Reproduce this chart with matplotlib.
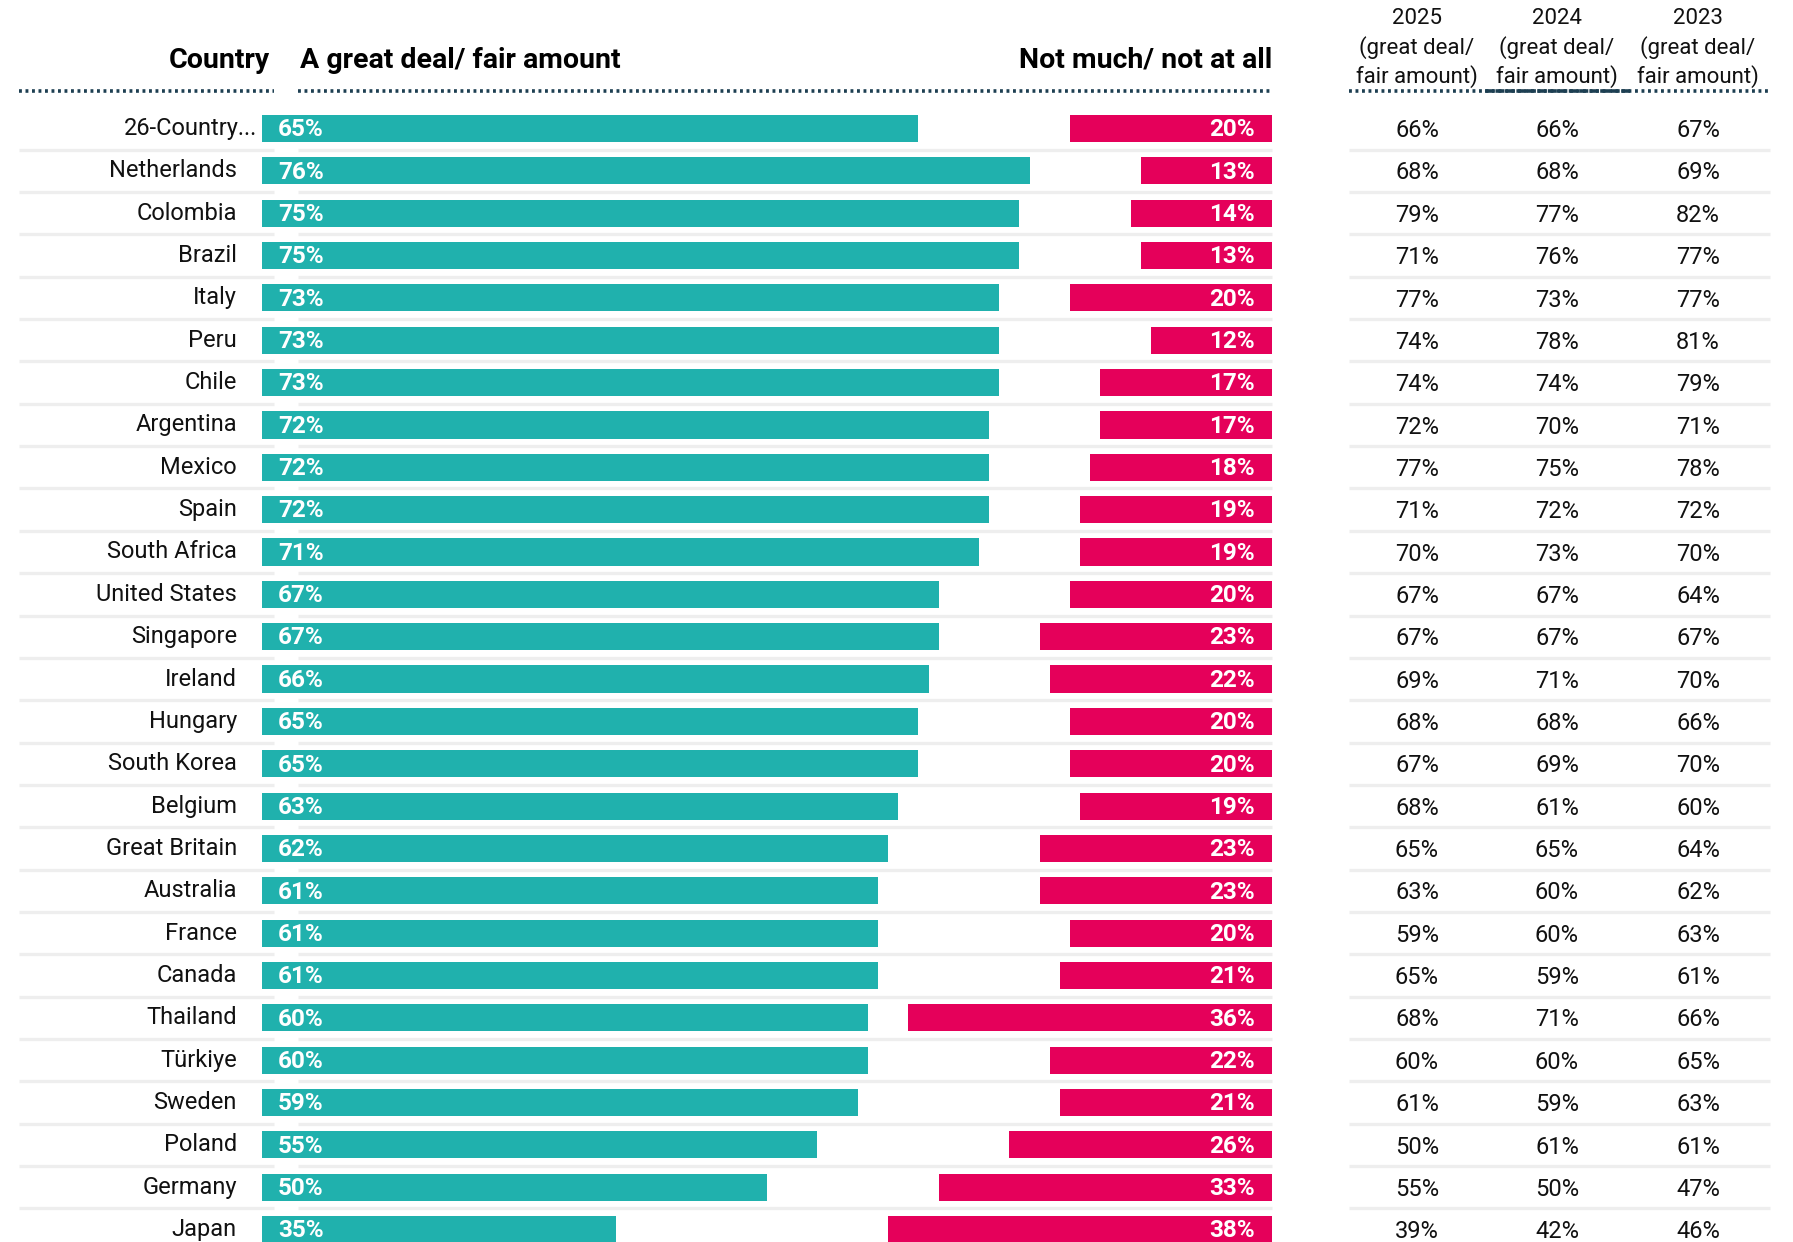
"""Trust by country: horizontal diverging bars plus a small year table."""
import matplotlib.pyplot as plt
from matplotlib import font_manager
from matplotlib.transforms import blended_transform_factory

COUNTRIES = ["26-Country...", "Netherlands", "Colombia", "Brazil", "Italy", "Peru",
             "Chile", "Argentina", "Mexico", "Spain", "South Africa", "United States",
             "Singapore", "Ireland", "Hungary", "South Korea", "Belgium", "Great Britain",
             "Australia", "France", "Canada", "Thailand", "Türkiye", "Sweden", "Poland",
             "Germany", "Japan"]
GREAT_DEAL = [65, 76, 75, 75, 73, 73, 73, 72, 72, 72, 71, 67, 67, 66, 65, 65, 63, 62,
              61, 61, 61, 60, 60, 59, 55, 50, 35]
NOT_MUCH = [20, 13, 14, 13, 20, 12, 17, 17, 18, 19, 19, 20, 23, 22, 20, 20, 19, 23,
            23, 20, 21, 36, 22, 21, 26, 33, 38]
YEARS = ["2025", "2024", "2023"]
Y2025 = [66, 68, 79, 71, 77, 74, 74, 72, 77, 71, 70, 67, 67, 69, 68, 67, 68, 65,
         63, 59, 65, 68, 60, 61, 50, 55, 39]
Y2024 = [66, 68, 77, 76, 73, 78, 74, 70, 75, 72, 73, 67, 67, 71, 68, 69, 61, 65,
         60, 60, 59, 71, 60, 59, 61, 50, 42]
Y2023 = [67, 69, 82, 77, 77, 81, 79, 71, 78, 72, 70, 64, 67, 70, 66, 70, 60, 64,
         62, 63, 61, 66, 65, 63, 61, 47, 46]

W, H = 1793, 1242
TEAL = "#20b1ad"
PINK = "#e5005a"
NAVY = "#1d3f52"
SEP = "#eeeeee"


def pick_font(candidates):
    """Return the first installed family from candidates."""
    names = {f.name for f in font_manager.fontManager.ttflist}
    for name in candidates:
        if name in names:
            return name
    return "DejaVu Sans"


def fx(px):
    """Figure pixel -> figure fraction (x)."""
    return px / W


def main():
    font = pick_font(["Roboto", "Liberation Sans", "DejaVu Sans"])
    plt.rcParams["font.family"] = [font, "DejaVu Sans"]

    fig = plt.figure(figsize=(W / 100, H / 100), dpi=100)
    # bar axes: 0% at x=262px, 100% at x=1272px, rows 42.35px apart
    ax = fig.add_axes([fx(262), 0, fx(1010), 1])
    row_h = 42.35
    first_row = 128.5
    ax.set_xlim(0, 100)
    ax.set_ylim((H - first_row) / row_h, -first_row / row_h)
    ax.axis("off")

    def py(px):
        return (px - first_row) / row_h

    rows = list(range(len(COUNTRIES)))
    tr = blended_transform_factory(fig.transFigure, ax.transData)

    # row separators (three segments)
    for i in rows[:-1]:
        for x0, x1 in [(19, 274), (298, 1272), (1349, 1770)]:
            ax.plot([fx(x0), fx(x1)], [i + 0.5, i + 0.5], transform=tr,
                    color=SEP, lw=2.4, solid_capstyle="butt", clip_on=False, zorder=1)

    ax.barh(rows, GREAT_DEAL, height=0.64, color=TEAL, zorder=2)
    not_left = [100 - v for v in NOT_MUCH]
    ax.barh(rows, NOT_MUCH, left=not_left, height=0.64, color=PINK, zorder=2)

    for i in rows:
        ax.text(1.6, i + 0.03, f"{GREAT_DEAL[i]}%", color="white", fontsize=17.5,
                fontweight="bold", ha="left", va="center", zorder=3)
        ax.text(98.3, i + 0.03, f"{NOT_MUCH[i]}%", color="white", fontsize=17.5,
                fontweight="bold", ha="right", va="center", zorder=3)
        name = COUNTRIES[i]
        lx = 257 if name.endswith("...") else 237
        ax.text(fx(lx), i, name, transform=tr, fontsize=17, color="#111111",
                ha="right", va="center", clip_on=False)
        for cx, vals in zip([1417, 1557, 1698], [Y2025, Y2024, Y2023]):
            ax.text(fx(cx), i + 0.05, f"{vals[i]}%", transform=tr, fontsize=17,
                    color="#111111", ha="center", va="center", clip_on=False)

    # headers
    ax.text(fx(270), py(60), "Country", transform=tr, fontsize=20.5,
            fontweight="bold", ha="right", va="center", clip_on=False)
    ax.text(fx(300), py(60), "A great deal/ fair amount", transform=tr, fontsize=20.5,
            fontweight="bold", ha="left", va="center", clip_on=False)
    ax.text(fx(1272), py(60), "Not much/ not at all", transform=tr, fontsize=20.5,
            fontweight="bold", ha="right", va="center", clip_on=False)
    for cx, year in zip([1417, 1557, 1698], YEARS):
        for line, ypx in zip([year, "(great deal/", "fair amount)"], [19, 48, 77]):
            ax.text(fx(cx), py(ypx), line, transform=tr, fontsize=16,
                    color="#111111", ha="center", va="center", clip_on=False)

    # dotted header rules
    dot = (0, (0.8, 1.0))
    for x0, x1 in [(19, 274), (298, 1272), (1349, 1770)]:
        ax.plot([fx(x0), fx(x1)], [py(91), py(91)], transform=tr, color=NAVY,
                lw=2.6, linestyle=dot, clip_on=False)
    ax.plot([fx(1485), fx(1630)], [py(91), py(91)], transform=tr, color=NAVY,
            lw=2.6, linestyle=(0, (2.5, 0.4)), clip_on=False)

    fig.savefig("out.png", dpi=100)


if __name__ == "__main__":
    main()
